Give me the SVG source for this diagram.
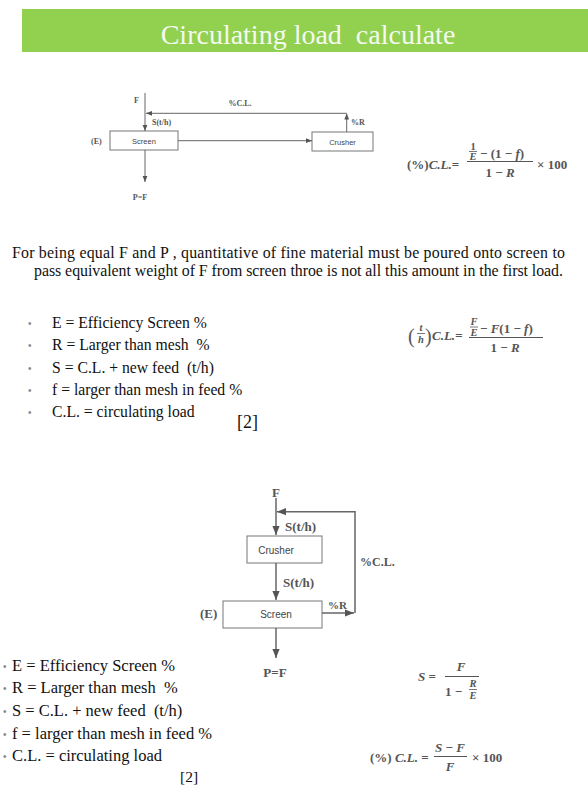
<svg xmlns="http://www.w3.org/2000/svg" width="588" height="798" viewBox="0 0 588 798">
<defs>
<marker id="ah" viewBox="0 0 10 10" refX="10" refY="5" markerWidth="6" markerHeight="6" orient="auto" markerUnits="userSpaceOnUse"><path d="M0 1 L10 5 L0 9 z" fill="#555"/></marker>
<marker id="ah2" viewBox="0 0 10 10" refX="10" refY="5" markerWidth="9" markerHeight="9" orient="auto" markerUnits="userSpaceOnUse"><path d="M0 1 L10 5 L0 9 z" fill="#555"/></marker>
</defs>
<style>
.ser{font-family:"Liberation Serif","Times New Roman",serif;fill:#111}
.lbl{font-family:"Liberation Serif",serif;font-weight:bold;fill:#555}
.box{fill:#fff;stroke:#777;stroke-width:1}
.bt{font-family:"Liberation Sans",Arial,sans-serif;fill:#444;text-anchor:middle}
.ln{stroke:#666;stroke-width:1;fill:none}
.ln2{stroke:#666;stroke-width:1.5;fill:none}
.fm{font-family:"Liberation Serif",serif;font-weight:bold;fill:#555;font-size:13px}
.fi{font-style:italic}
.bul{font-family:"Liberation Sans",sans-serif;fill:#888}
</style>
<rect width="588" height="798" fill="#fff"/>
<g id="header">
<rect x="22" y="9" width="566" height="43" fill="#92d050"/>
<text x="308" y="44" text-anchor="middle" class="ser" style="fill:#f4faf0;font-size:28px;white-space:pre">Circulating load  calculate</text>
</g>

<g id="diagram1">
<g id="d1-screen"><rect class="box" x="110" y="131" width="68" height="19"/><text class="bt" x="144" y="143.5" font-size="7.5">Screen</text></g>
<g id="d1-crusher"><rect class="box" x="312" y="132" width="61" height="19"/><text class="bt" x="342.5" y="144.5" font-size="7.5">Crusher</text></g>
<g id="d1-connectors">
<path class="ln" d="M145 93 V131" marker-end="url(#ah)"/>
<path class="ln" d="M346.7 132 V113.5" marker-end="url(#ah)"/>
<path class="ln" d="M346.7 113.3 H146" marker-end="url(#ah)"/>
<path class="ln" d="M178 140.7 H312" marker-end="url(#ah)"/>
<path class="ln" d="M145 150 V182" marker-end="url(#ah)"/>
</g>
<g id="d1-labels" font-size="8">
<text class="lbl" x="134" y="103">F</text>
<text class="lbl" x="240" y="106" text-anchor="middle">%C.L.</text>
<text class="lbl" x="351" y="125">%R</text>
<text class="lbl" x="152" y="125">S(t/h)</text>
<text class="lbl" x="91" y="144">(E)</text>
<text class="lbl" x="140" y="200" text-anchor="middle">P=F</text>
</g>
</g>

<g id="formula1" class="fm">
<text x="407" y="169">(%)<tspan class="fi">C.L.</tspan>=</text>
<text x="473" y="149.5" text-anchor="middle" font-size="10.5">1</text>
<line x1="469" y1="151.5" x2="477" y2="151.5" stroke="#555" stroke-width="0.8"/>
<text x="473" y="160" text-anchor="middle" font-size="10.5" class="fi">E</text>
<text x="480" y="158">− (1 − <tspan class="fi">f</tspan>)</text>
<line x1="467" y1="161.5" x2="533" y2="161.5" stroke="#555" stroke-width="1"/>
<text x="500" y="177" text-anchor="middle">1 − <tspan class="fi">R</tspan></text>
<text x="537" y="169">× 100</text>
</g>

<g id="paragraph" class="ser" font-size="15.9">
<text x="12" y="258" textLength="553" lengthAdjust="spacing">For being equal F and P , quantitative of fine material must be poured onto screen to</text>
<text x="34" y="276" textLength="529" lengthAdjust="spacing">pass equivalent weight of F from screen throe is not all this amount in the first load.</text>
</g>

<g id="list1" font-size="15.7">
<text class="bul" x="28" y="327" font-size="10">•</text>
<text class="bul" x="28" y="349" font-size="10">•</text>
<text class="bul" x="28" y="372" font-size="10">•</text>
<text class="bul" x="28" y="394" font-size="10">•</text>
<text class="bul" x="28" y="416" font-size="10">•</text>
<text class="ser" x="52" y="328">E = Efficiency Screen %</text>
<text class="ser" x="52" y="350" style="white-space:pre">R = Larger than mesh  %</text>
<text class="ser" x="52" y="373" style="white-space:pre">S = C.L. + new feed  (t/h)</text>
<text class="ser" x="52" y="395">f = larger than mesh in feed %</text>
<text class="ser" x="52" y="417">C.L. = circulating load</text>
<text class="ser" x="237" y="428" font-size="18">[2]</text>
</g>

<g id="formula2" class="fm">
<text x="408" y="343" font-size="20" style="font-weight:normal">(</text>
<text x="421" y="331" text-anchor="middle" font-size="10.5" class="fi">t</text>
<line x1="417" y1="333.5" x2="425" y2="333.5" stroke="#555" stroke-width="0.8"/>
<text x="421" y="343" text-anchor="middle" font-size="10.5" class="fi">h</text>
<text x="425" y="343" font-size="20" style="font-weight:normal">)</text>
<text x="432" y="340" class="fi">C.L.<tspan style="font-style:normal">=</tspan></text>
<text x="474" y="325" text-anchor="middle" font-size="10.5" class="fi">F</text>
<line x1="470" y1="327" x2="478" y2="327" stroke="#555" stroke-width="0.8"/>
<text x="474" y="335.5" text-anchor="middle" font-size="10.5" class="fi">E</text>
<text x="480" y="333">− <tspan class="fi">F</tspan>(1 − <tspan class="fi">f</tspan>)</text>
<line x1="469" y1="337.5" x2="543" y2="337.5" stroke="#555" stroke-width="1"/>
<text x="505" y="352" text-anchor="middle">1 − <tspan class="fi">R</tspan></text>
</g>

<g id="diagram2">
<g id="d2-crusher"><rect class="box" x="247" y="536" width="75" height="27"/><text class="bt" x="276" y="554" font-size="10">Crusher</text></g>
<g id="d2-screen"><rect class="box" x="223" y="601" width="99" height="27"/><text class="bt" x="276" y="618" font-size="10">Screen</text></g>
<g id="d2-connectors">
<path class="ln2" d="M276 498 V535" marker-end="url(#ah2)"/>
<path class="ln2" d="M355 613 V511.7 H277" marker-end="url(#ah2)"/>
<path class="ln2" d="M322 613 H354" marker-end="url(#ah2)"/>
<path class="ln2" d="M276 563 V600" marker-end="url(#ah2)"/>
<path class="ln2" d="M276 628 V658" marker-end="url(#ah2)"/>
</g>
<g id="d2-labels" font-size="13">
<text class="lbl" x="276" y="497" text-anchor="middle">F</text>
<text class="lbl" x="285" y="531">S(t/h)</text>
<text class="lbl" x="283" y="587">S(t/h)</text>
<text class="lbl" x="200" y="618">(E)</text>
<text class="lbl" x="328" y="609" font-size="11">%R</text>
<text class="lbl" x="360" y="566" font-size="12">%C.L.</text>
<text class="lbl" x="275" y="677" text-anchor="middle">P=F</text>
</g>
</g>

<g id="list2" font-size="16.5">
<text class="bul" x="3" y="670" font-size="10">•</text>
<text class="bul" x="3" y="692" font-size="10">•</text>
<text class="bul" x="3" y="715" font-size="10">•</text>
<text class="bul" x="3" y="738" font-size="10">•</text>
<text class="bul" x="3" y="760" font-size="10">•</text>
<text class="ser" x="12" y="671">E = Efficiency Screen %</text>
<text class="ser" x="12" y="693" style="white-space:pre">R = Larger than mesh  %</text>
<text class="ser" x="12" y="716" style="white-space:pre">S = C.L. + new feed  (t/h)</text>
<text class="ser" x="12" y="739">f = larger than mesh in feed %</text>
<text class="ser" x="12" y="761">C.L. = circulating load</text>
<text class="ser" x="180" y="782" font-size="15.5">[2]</text>
</g>

<g id="formula3" class="fm">
<text x="418" y="681"><tspan class="fi">S</tspan> =</text>
<text x="461" y="671" text-anchor="middle" class="fi">F</text>
<line x1="445" y1="676.5" x2="479" y2="676.5" stroke="#555" stroke-width="1"/>
<text x="445" y="696">1 −</text>
<text x="473" y="687" text-anchor="middle" font-size="10.5" class="fi">R</text>
<line x1="469" y1="689.5" x2="477" y2="689.5" stroke="#555" stroke-width="0.8"/>
<text x="473" y="699" text-anchor="middle" font-size="10.5" class="fi">E</text>
</g>

<g id="formula4" class="fm">
<text x="370" y="762">(%) <tspan class="fi">C.L.</tspan> =</text>
<text x="450" y="752" text-anchor="middle"><tspan class="fi">S</tspan> − <tspan class="fi">F</tspan></text>
<line x1="434" y1="756.5" x2="467" y2="756.5" stroke="#555" stroke-width="1"/>
<text x="450" y="771" text-anchor="middle" class="fi">F</text>
<text x="472" y="762">× 100</text>
</g>
</svg>
